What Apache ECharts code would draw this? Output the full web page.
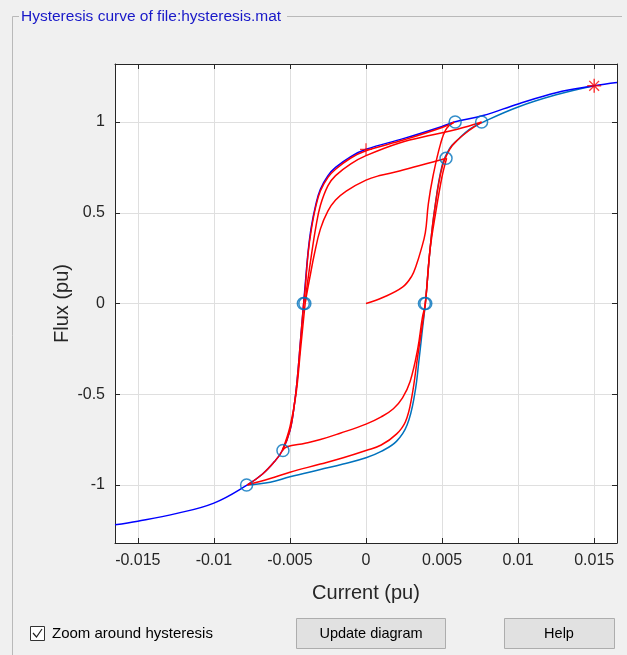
<!DOCTYPE html>
<html>
<head>
<meta charset="utf-8">
<title>Hysteresis curve</title>
<script src="https://cdn.jsdelivr.net/npm/echarts@6/dist/echarts.min.js"></script>
<style>
  html, body { margin: 0; padding: 0; background: #f0f0f0; }
  #chart { width: 627px; height: 655px; }
</style>
</head>
<body>
<div id="chart"></div>
<script>
// tick values
var currentTicks = [-0.015, -0.01, -0.005, 0, 0.005, 0.01, 0.015];
var fluxTicks = [-1, -0.5, 0, 0.5, 1];

// major loop, descending branch (dark blue)  [current, flux]
var majorDown = [
  [0.0165, 1.218], [0.015, 1.2], [0.0125, 1.162], [0.01, 1.1], [0.0077, 1.036],
  [0.0058, 1.0], [0.005, 0.976], [0.0025, 0.91], [0, 0.85], [-0.001, 0.81],
  [-0.002, 0.75], [-0.0025, 0.705], [-0.003, 0.63], [-0.0033, 0.545], [-0.0036, 0.42],
  [-0.0038, 0.29], [-0.004, 0.1], [-0.0041, 0], [-0.0043, -0.2], [-0.0045, -0.4],
  [-0.0047, -0.55], [-0.005, -0.7], [-0.0055, -0.81], [-0.006, -0.87], [-0.0068, -0.94],
  [-0.0078, -1.0], [-0.01, -1.1], [-0.0125, -1.158], [-0.015, -1.2], [-0.0165, -1.22]
];
// major loop, ascending branch (light blue)
var majorUp = [
  [-0.0078, -1.0], [-0.0063, -0.985], [-0.005, -0.955], [-0.003, -0.915], [-0.0015, -0.885],
  [0, -0.85], [0.001, -0.815], [0.002, -0.76], [0.0027, -0.67], [0.0032, -0.5],
  [0.0035, -0.3], [0.0037, -0.15], [0.0039, 0], [0.0042, 0.29], [0.0045, 0.51],
  [0.005, 0.76], [0.0055, 0.855], [0.006, 0.9], [0.0068, 0.96], [0.0077, 1.0],
  [0.01, 1.083], [0.0125, 1.15], [0.015, 1.2]
];

// simulated trajectory (red), branch by branch
var redInitial = [
  [0, 0], [0.0011, 0.033], [0.0024, 0.09], [0.003, 0.15], [0.0033, 0.21],
  [0.0036, 0.29], [0.0039, 0.39], [0.0041, 0.55], [0.0044, 0.7], [0.0049, 0.88],
  [0.0053, 0.965], [0.0058, 1.0]
];
var redDown1 = [
  [0.0058, 1.0], [0.005, 0.97], [0.0025, 0.902], [0, 0.842], [-0.001, 0.802],
  [-0.002, 0.74], [-0.0025, 0.695], [-0.003, 0.62], [-0.0033, 0.535], [-0.0036, 0.405],
  [-0.0038, 0.28], [-0.004, 0.08], [-0.0041, 0], [-0.0043, -0.2], [-0.0045, -0.4],
  [-0.0047, -0.55], [-0.005, -0.7], [-0.0055, -0.81], [-0.006, -0.87], [-0.0068, -0.94],
  [-0.0078, -1.0]
];
var redUp1 = [
  [-0.0078, -1.0], [-0.0063, -0.965], [-0.005, -0.93], [-0.003, -0.885], [-0.0015, -0.85],
  [0, -0.81], [0.001, -0.78], [0.002, -0.72], [0.0026, -0.65], [0.003, -0.52],
  [0.0034, -0.29], [0.0037, -0.12], [0.0039, 0], [0.0042, 0.29], [0.0045, 0.51],
  [0.005, 0.75], [0.0055, 0.85], [0.006, 0.9], [0.0068, 0.955], [0.0076, 1.0]
];
var redDown2 = [
  [0.0076, 1.0], [0.006, 0.96], [0.0044, 0.93], [0.0022, 0.885], [0, 0.815],
  [-0.001, 0.77], [-0.002, 0.705], [-0.0025, 0.65], [-0.003, 0.54], [-0.0033, 0.42],
  [-0.0036, 0.26], [-0.0039, 0.08], [-0.004, 0], [-0.0043, -0.25], [-0.0046, -0.5],
  [-0.005, -0.68], [-0.0055, -0.81]
];
var redUp2 = [
  [-0.0055, -0.81], [-0.0052, -0.79], [-0.004, -0.77], [-0.003, -0.75], [-0.0017, -0.715],
  [0, -0.665], [0.001, -0.625], [0.0018, -0.58], [0.0024, -0.52], [0.0029, -0.43],
  [0.0034, -0.25], [0.0037, -0.08], [0.0039, 0], [0.0042, 0.29], [0.0046, 0.51],
  [0.005, 0.7], [0.0053, 0.8]
];
var redDown3 = [
  [0.0053, 0.8], [0.0044, 0.78], [0.0022, 0.73], [0.0009, 0.705], [0, 0.68],
  [-0.0013, 0.62], [-0.002, 0.57], [-0.0025, 0.51], [-0.003, 0.41], [-0.0034, 0.27],
  [-0.0037, 0.14], [-0.0039, 0.05], [-0.004, 0]
];

// marked points
var reversalPoints = [[0.00586, 1.0], [0.0076, 1.0], [0.00526, 0.8], [-0.00546, -0.81], [-0.00785, -1.0]];
var zeroCrossings = [[-0.00412, 0], [-0.00402, 0], [0.00384, 0], [0.00393, 0]];
var plusPoint = [[0, 0.85]];
var starPoint = [[0.015, 1.2]];

var font = 'Liberation Sans, Arial, sans-serif';
var axisColor = '#262626';

function redLine(data) {
  return {
    type: 'line', data: data, showSymbol: false, smooth: 0.4, z: 4,
    lineStyle: { color: '#ff0000', width: 1.5 }
  };
}

function axisPair(isX, min, max, ticks, name) {
  var main = {
    type: 'value', min: min, max: max,
    position: isX ? 'bottom' : 'left',
    name: name, nameLocation: 'middle', nameGap: isX ? 40 : 43,
    nameMoveOverlap: false,
    nameTextStyle: { fontFamily: font, fontSize: 20, color: axisColor },
    axisLine: { show: true, onZero: false, lineStyle: { color: axisColor, width: 1 } },
    axisTick: { show: true, inside: true, length: 5, customValues: ticks, lineStyle: { color: axisColor } },
    axisLabel: { customValues: ticks, margin: 10, fontFamily: font, fontSize: 16, color: axisColor },
    splitLine: { show: true, lineStyle: { color: '#dfdfdf', width: 1 } }
  };
  // second axis just to close the box (matlab "box on")
  var other = {
    type: 'value', min: min, max: max,
    position: isX ? 'top' : 'right',
    axisLine: { show: true, onZero: false, lineStyle: { color: axisColor, width: 1 } },
    axisTick: { show: true, inside: true, length: 5, customValues: ticks, lineStyle: { color: axisColor } },
    axisLabel: { show: false },
    splitLine: { show: false }
  };
  return [main, other];
}

var myChart = echarts.init(document.getElementById('chart'));
var option = {
  animation: false,
  backgroundColor: '#f0f0f0',
  grid: {
    left: 115, right: 10, top: 64, bottom: 112,
    show: true, backgroundColor: '#ffffff', borderWidth: 0,
    containLabel: false, outerBoundsMode: 'none'
  },
  xAxis: axisPair(true, -0.0165, 0.0165, currentTicks, 'Current (pu)'),
  yAxis: axisPair(false, -1.32, 1.32, fluxTicks, 'Flux (pu)'),
  series: [
    {
      type: 'line', data: majorUp, showSymbol: false, smooth: 0.4, z: 2,
      lineStyle: { color: '#0072bd', width: 1.5 }
    },
    {
      type: 'line', data: majorDown, showSymbol: false, smooth: 0.4, z: 3,
      lineStyle: { color: '#0000ff', width: 1.5 }
    },
    redLine(redInitial),
    redLine(redDown1),
    redLine(redUp1),
    redLine(redDown2),
    redLine(redUp2),
    redLine(redDown3),
    {
      type: 'scatter', data: reversalPoints.concat(zeroCrossings), z: 5,
      symbol: 'circle', symbolSize: 12,
      itemStyle: { color: 'rgba(0,0,0,0)', borderColor: '#0072bd', borderWidth: 1.5 }
    },
    {
      type: 'scatter', data: plusPoint, z: 6,
      symbol: 'path://M0,-6L0,6M-6,0L6,0', symbolSize: 12,
      itemStyle: { color: 'none', borderColor: '#ff0000', borderWidth: 1.2 }
    },
    {
      type: 'scatter', data: starPoint, z: 6,
      symbol: 'path://M0,-6L0,6M-6,0L6,0M-4.2,-4.2L4.2,4.2M-4.2,4.2L4.2,-4.2', symbolSize: 14,
      itemStyle: { color: 'none', borderColor: '#ff0000', borderWidth: 1.4 }
    }
  ],
  graphic: [
    // group box frame
    { type: 'line', shape: { x1: 12.5, y1: 16.5, x2: 19, y2: 16.5 }, style: { stroke: '#b9b9b9', lineWidth: 1 } },
    { type: 'line', shape: { x1: 287, y1: 16.5, x2: 622, y2: 16.5 }, style: { stroke: '#b9b9b9', lineWidth: 1 } },
    { type: 'line', shape: { x1: 12.5, y1: 16.5, x2: 12.5, y2: 655 }, style: { stroke: '#b9b9b9', lineWidth: 1 } },
    {
      type: 'text', left: 21, top: 9,
      style: { text: 'Hysteresis curve of file:hysteresis.mat', fill: '#1818c8', font: '15.5px ' + font }
    },
    // checkbox
    { type: 'rect', shape: { x: 30.5, y: 626.5, width: 14, height: 14 }, style: { fill: '#ffffff', stroke: '#333333', lineWidth: 1 } },
    { type: 'polyline', shape: { points: [[33, 633], [36.5, 637], [42, 629]] }, style: { stroke: '#222222', lineWidth: 1.2, fill: null } },
    {
      type: 'text', left: 52, top: 626,
      style: { text: 'Zoom around hysteresis', fill: '#000000', font: '15px ' + font }
    },
    // buttons
    { type: 'rect', shape: { x: 296.5, y: 618.5, width: 149, height: 30 }, style: { fill: '#e1e1e1', stroke: '#adadad', lineWidth: 1 } },
    {
      type: 'text', x: 371, y: 634,
      style: { text: 'Update diagram', fill: '#000000', font: '14.5px ' + font, textAlign: 'center', textVerticalAlign: 'middle' }
    },
    { type: 'rect', shape: { x: 504.5, y: 618.5, width: 110, height: 30 }, style: { fill: '#e1e1e1', stroke: '#adadad', lineWidth: 1 } },
    {
      type: 'text', x: 559, y: 634,
      style: { text: 'Help', fill: '#000000', font: '14.5px ' + font, textAlign: 'center', textVerticalAlign: 'middle' }
    }
  ]
};
myChart.setOption(option);
window.onresize = myChart.resize;
</script>
</body>
</html>
